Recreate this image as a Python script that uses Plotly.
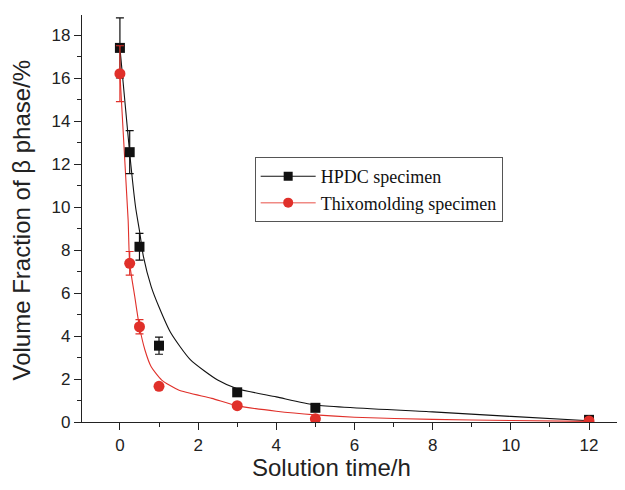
import plotly.graph_objects as go

# Measured data points
time_h = [0, 0.25, 0.5, 1, 3, 5, 12]
hpdc = [17.4, 12.55, 8.15, 3.55, 1.38, 0.66, 0.1]
hpdc_err = [1.4, 1.0, 0.62, 0.4, 0.15, 0.08, 0.05]
thixo = [16.2, 7.38, 4.43, 1.66, 0.76, 0.15, 0.05]
thixo_err = [1.3, 0.55, 0.33, 0.1, 0.05, 0.05, 0.03]

# Fitted curves
fit_hpdc_x = [0, 0.25, 0.4, 0.5, 0.6, 0.8, 1.0, 1.3, 1.8, 2.5, 3.0, 4.0, 5.0, 8.0, 10.0, 12.0]
fit_hpdc_y = [17.4, 12.5, 10.0, 8.9, 7.7, 6.3, 5.35, 4.15, 2.9, 1.95, 1.55, 1.17, 0.79, 0.47, 0.26, 0.06]
fit_thixo_x = [0, 0.21, 0.25, 0.38, 0.5, 0.64, 0.8, 1.07, 1.5, 2.35, 3.0, 4.0, 5.0, 6.0, 8.0, 10.0, 12.0]
fit_thixo_y = [16.2, 9.4, 7.38, 5.83, 4.43, 3.35, 2.57, 1.95, 1.49, 1.10, 0.76, 0.5, 0.33, 0.22, 0.12, 0.07, 0.03]

x_ticks = [0, 2, 4, 6, 8, 10, 12]
y_ticks = [0, 2, 4, 6, 8, 10, 12, 14, 16, 18]
x_title = "Solution time/h"
y_title = "Volume Fraction of β phase/%"

BLACK = "#111111"
RED = "#e0302a"

fig = go.Figure()

fig.add_trace(go.Scatter(x=fit_hpdc_x, y=fit_hpdc_y, mode="lines",
                         line=dict(color=BLACK, width=1.1, shape="spline", smoothing=0.6),
                         showlegend=False, hoverinfo="skip"))
fig.add_trace(go.Scatter(x=fit_thixo_x, y=fit_thixo_y, mode="lines",
                         line=dict(color=RED, width=1.1, shape="spline", smoothing=0.6),
                         showlegend=False, hoverinfo="skip"))

fig.add_trace(go.Scatter(x=time_h, y=hpdc, mode="markers",
                         marker=dict(symbol="square", size=10, color=BLACK),
                         error_y=dict(type="data", array=hpdc_err, color=BLACK, thickness=1.2, width=4),
                         showlegend=False))
fig.add_trace(go.Scatter(x=time_h, y=thixo, mode="markers",
                         marker=dict(symbol="circle", size=11, color=RED),
                         error_y=dict(type="data", array=thixo_err, color=RED, thickness=1.2, width=4),
                         showlegend=False))

# Legend entries
fig.add_trace(go.Scatter(x=[None], y=[None], mode="lines+markers", name="HPDC specimen",
                         line=dict(color=BLACK, width=1.1),
                         marker=dict(symbol="square", size=9, color=BLACK)))
fig.add_trace(go.Scatter(x=[None], y=[None], mode="lines+markers", name="Thixomolding specimen",
                         line=dict(color="#f08a84", width=1.5),
                         marker=dict(symbol="circle", size=10, color=RED)))

tick_font = dict(family="Liberation Sans, Arial, sans-serif", size=17, color="#222")
title_font = dict(family="Liberation Sans, Arial, sans-serif", size=24, color="#222")

# The page body adds an 8px offset; margins compensate so the plot area sits as in the reference.
fig.update_layout(
    width=617, height=482,
    margin=dict(l=74, r=0, t=7, b=68),
    paper_bgcolor="white", plot_bgcolor="white",
    font=tick_font,
    legend=dict(x=0.318, y=0.651, xanchor="left", yanchor="top",
                bgcolor="white", bordercolor="#555", borderwidth=1,
                font=dict(family="Liberation Serif, Times New Roman, serif", size=18, color="#111"),
                tracegroupgap=0, itemwidth=55),
    xaxis=dict(range=[-0.97, 12.92], tickvals=x_ticks, ticktext=[str(v) for v in x_ticks],
               ticks="outside", ticklen=7, tickwidth=1.2, tickcolor="#222", automargin=False,
               showline=True, linecolor="#222", linewidth=1.3, showgrid=False, zeroline=False,
               minor=dict(dtick=1, tick0=1, ticks="outside", ticklen=4, tickwidth=1.2, tickcolor="#222"),
               tickfont=tick_font),
    yaxis=dict(range=[0, 18.93], tickvals=y_ticks, ticktext=[str(v) for v in y_ticks],
               ticks="outside", ticklen=7, tickwidth=1.2, tickcolor="#222", automargin=False,
               showline=True, linecolor="#222", linewidth=1.3, showgrid=False, zeroline=False,
               minor=dict(dtick=1, tick0=1, ticks="outside", ticklen=4, tickwidth=1.2, tickcolor="#222"),
               tickfont=tick_font),
    annotations=[
        dict(text=x_title, xref="paper", yref="paper", x=0.4586, y=0, yshift=-45,
             xanchor="center", yanchor="middle", showarrow=False, font=title_font),
        dict(text=y_title, xref="paper", yref="paper", x=0, y=0.495, xshift=-60,
             xanchor="center", yanchor="middle", textangle=-90, showarrow=False, font=title_font),
    ],
)

fig.write_html("out.html")
